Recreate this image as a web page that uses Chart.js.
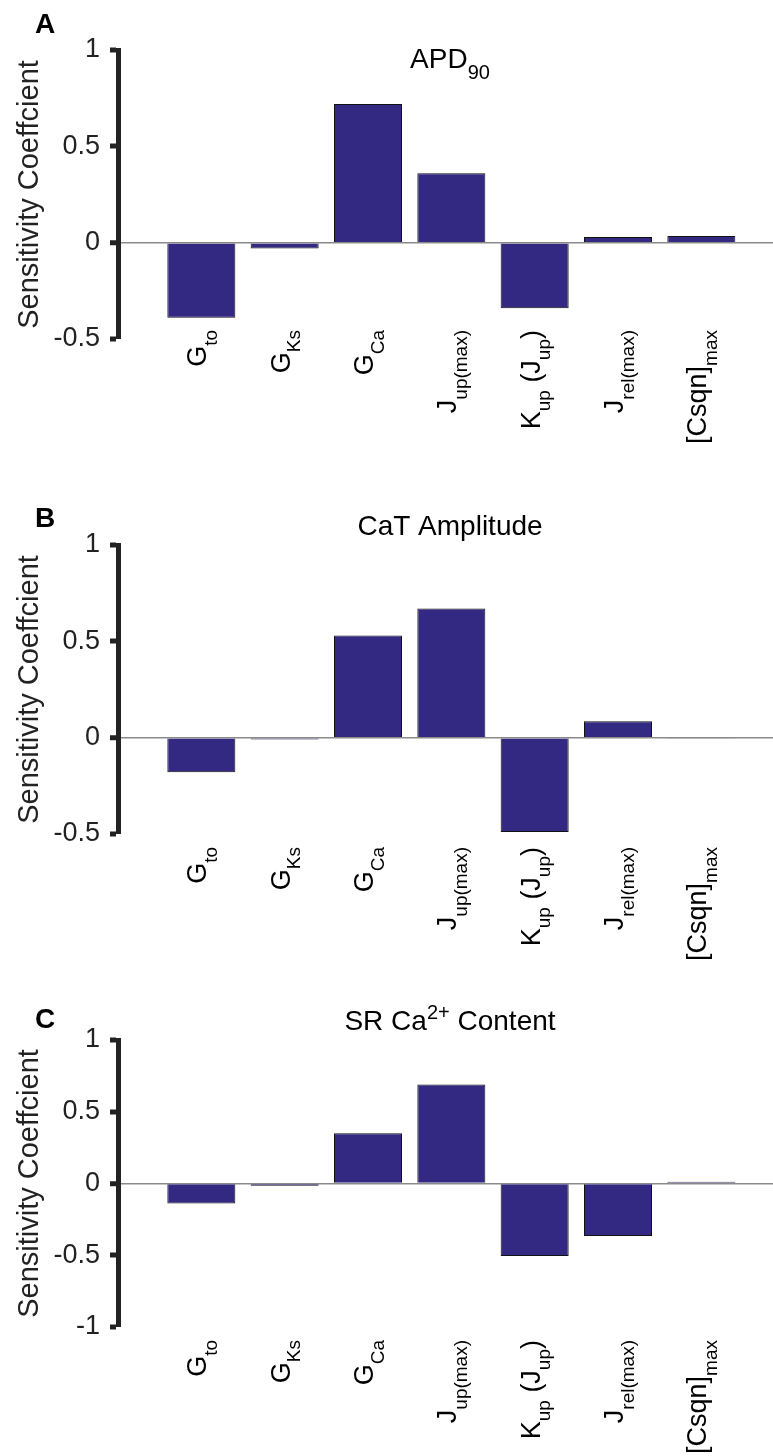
<!DOCTYPE html>
<html>
<head>
<meta charset="utf-8">
<script src="https://cdn.jsdelivr.net/npm/chart.js@4.4.1/dist/chart.umd.min.js"></script>
<style>
  html, body { margin: 0; padding: 0; background: #fff; overflow: hidden; }
  #fig { position: relative; width: 773px; height: 1456px; }
  #fig canvas { position: absolute; left: 0; }
</style>
</head>
<body>
<div id="fig"></div>
<script>
// Parameter names: _{..} is a subscript, ^{..} a superscript.
const categories = ['G_{to}', 'G_{Ks}', 'G_{Ca}', 'J_{up(max)}', 'K_{up} (J_{up})', 'J_{rel(max)}', '[Csqn]_{max}'];
const categoryPos = [1, 2, 3, 4, 5, 6, 7];

// Sensitivity coefficients
const apd90 = [-0.39, -0.03, 0.72, 0.36, -0.34, 0.03, 0.035];
const catAmplitude = [-0.18, -0.01, 0.53, 0.67, -0.49, 0.085, -0.005];
const srContent = [-0.14, -0.015, 0.35, 0.69, -0.505, -0.365, 0.012];

const ticksAB = [-0.5, 0, 0.5, 1];
const ticksC = [-1, -0.5, 0, 0.5, 1];

const panelTitles = ['APD_{90}', 'CaT Amplitude', 'SR Ca^{2+} Content'];
const panelLetters = ['A', 'B', 'C'];
const yTitle = 'Sensitivity Coeffcient';

const FONT = "'Liberation Sans', Arial, Helvetica, sans-serif";
const BAR = '#332983';
const TXT = 27;

function parseRich(str) {
  const out = [];
  const re = /([_^])\{([^}]*)\}|([^_^]+)/g;
  let m;
  while ((m = re.exec(str))) {
    if (m[3]) out.push({ text: m[3], mode: 'normal' });
    else out.push({ text: m[2], mode: m[1] === '_' ? 'sub' : 'sup' });
  }
  return out;
}

function segSize(mode, size) {
  return mode === 'normal' ? size : Math.round(size * 0.7);
}

function richWidth(ctx, segs, size) {
  let w = 0;
  for (const s of segs) {
    ctx.font = segSize(s.mode, size) + 'px ' + FONT;
    w += ctx.measureText(s.text).width;
  }
  return w;
}

function drawRich(ctx, segs, x, y, size) {
  let cx = x;
  for (const s of segs) {
    ctx.font = segSize(s.mode, size) + 'px ' + FONT;
    const dy = s.mode === 'sub' ? size * 0.4 : s.mode === 'sup' ? -size * 0.4 : 0;
    ctx.fillText(s.text, cx, y + dy);
    cx += ctx.measureText(s.text).width;
  }
}

// letter, title, y-axis title and the rotated parameter labels
const figureText = {
  id: 'figureText',
  afterDraw(chart, args, o) {
    const { ctx, chartArea, scales } = chart;
    ctx.save();
    ctx.fillStyle = '#000';
    ctx.textAlign = 'left';
    ctx.textBaseline = 'alphabetic';

    ctx.font = 'bold 28px ' + FONT;
    ctx.fillText(o.letter, 35, o.letterBaseline);

    const t = parseRich(o.title);
    drawRich(ctx, t, 450 - richWidth(ctx, t, 28) / 2, o.titleBaseline, 28);

    ctx.save();
    ctx.translate(38, (chartArea.top + chartArea.bottom) / 2);
    ctx.rotate(-Math.PI / 2);
    ctx.font = '29px ' + FONT;
    ctx.fillStyle = '#222';
    ctx.textAlign = 'center';
    ctx.fillText(yTitle, 0, 0);
    ctx.restore();

    categories.forEach((lab, i) => {
      const segs = parseRich(lab);
      const w = richWidth(ctx, segs, TXT);
      const px = scales.x.getPixelForValue(categoryPos[i]);
      ctx.save();
      ctx.translate(px + 5, o.labelTop);
      ctx.rotate(-Math.PI / 2);
      drawRich(ctx, segs, -w, 0, TXT);
      ctx.restore();
    });
    ctx.restore();
  }
};

// page layout of each panel (absolute y coordinates)
const panels = [
  { top: 0, height: 470, areaTop: 50, areaBottom: 339, labelTop: 330, titleBaseline: 68, letterBaseline: 33 },
  { top: 470, height: 510, areaTop: 545, areaBottom: 834, labelTop: 847, titleBaseline: 535, letterBaseline: 527 },
  { top: 985, height: 471, areaTop: 1040, areaBottom: 1327, labelTop: 1340, titleBaseline: 1030, letterBaseline: 1028 },
];
const series = [apd90, catAmplitude, srContent];
const yTicks = [ticksAB, ticksAB, ticksC];

panels.forEach((p, k) => {
  const canvas = document.createElement('canvas');
  canvas.width = 773;
  canvas.height = p.height;
  canvas.style.top = p.top + 'px';
  document.getElementById('fig').appendChild(canvas);
  const ticks = yTicks[k];

  new Chart(canvas, {
    type: 'bar',
    data: {
      datasets: [{
        data: series[k].map((v, i) => ({ x: categoryPos[i], y: v })),
        backgroundColor: BAR,
        borderColor: '#111',
        borderWidth: 1,
        barPercentage: 0.816,
        categoryPercentage: 1,
      }],
    },
    options: {
      responsive: false,
      animation: false,
      devicePixelRatio: 1,
      layout: { padding: { top: p.areaTop - p.top, bottom: p.top + p.height - p.areaBottom, left: 0, right: 0 } },
      plugins: {
        legend: { display: false },
        tooltip: { enabled: false },
        figureText: {
          letter: panelLetters[k],
          title: panelTitles[k],
          letterBaseline: p.letterBaseline - p.top,
          titleBaseline: p.titleBaseline - p.top,
          labelTop: p.labelTop - p.top,
        },
      },
      scales: {
        x: {
          type: 'linear',
          min: 0,
          max: 7.86,
          offset: false,
          display: false,
          afterBuildTicks: (s) => { s.ticks = categoryPos.map((v) => ({ value: v })); },
        },
        y: {
          min: ticks[0],
          max: ticks[ticks.length - 1],
          afterBuildTicks: (s) => { s.ticks = ticks.map((v) => ({ value: v })); },
          afterFit: (s) => { s.width = 118; },
          border: { display: true, color: '#222', width: 5 },
          grid: {
            drawOnChartArea: true,
            color: (c) => (c.tick && c.tick.value === 0 ? '#8a8a8a' : 'rgba(0,0,0,0)'),
            lineWidth: (c) => (c.tick && c.tick.value === 0 ? 1.5 : 0),
            tickColor: '#222',
            tickWidth: 5,
            tickLength: 8,
          },
          ticks: {
            color: '#222',
            font: { family: FONT, size: TXT },
            padding: 10,
            callback: (v) => String(v),
          },
        },
      },
    },
    plugins: [figureText],
  });
});
</script>
</body>
</html>
